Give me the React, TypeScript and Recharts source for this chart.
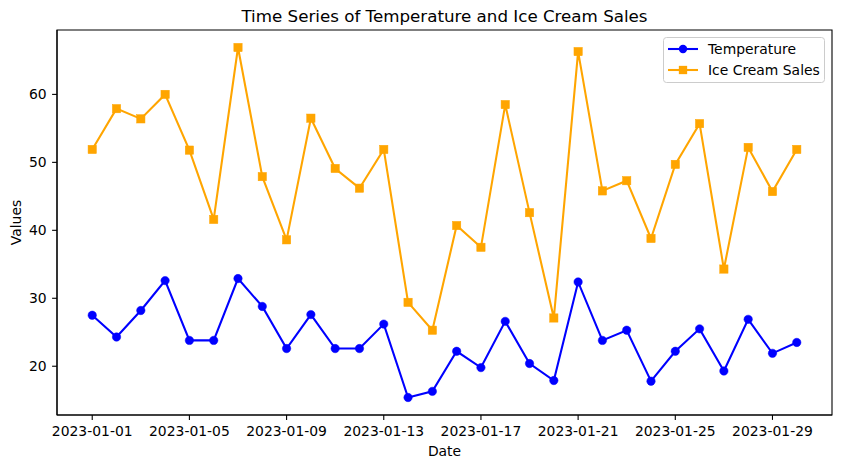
import React from 'react';
import { LineChart, Line, XAxis, YAxis, Legend, ReferenceArea } from 'recharts';

const dates = [
  '2023-01-01', '2023-01-02', '2023-01-03', '2023-01-04', '2023-01-05',
  '2023-01-06', '2023-01-07', '2023-01-08', '2023-01-09', '2023-01-10',
  '2023-01-11', '2023-01-12', '2023-01-13', '2023-01-14', '2023-01-15',
  '2023-01-16', '2023-01-17', '2023-01-18', '2023-01-19', '2023-01-20',
  '2023-01-21', '2023-01-22', '2023-01-23', '2023-01-24', '2023-01-25',
  '2023-01-26', '2023-01-27', '2023-01-28', '2023-01-29', '2023-01-30',
];

const temperature = [
  27.5, 24.3, 28.2, 32.6, 23.8, 23.8, 32.9, 28.8, 22.6, 27.6,
  22.6, 22.6, 26.2, 15.4, 16.3, 22.2, 19.8, 26.6, 20.4, 17.9,
  32.4, 23.8, 25.3, 17.8, 22.2, 25.5, 19.3, 26.9, 21.9, 23.5,
];

const iceCreamSales = [
  51.9, 57.9, 56.4, 60.0, 51.8, 41.6, 66.9, 47.9, 38.6, 56.5,
  49.1, 46.2, 51.9, 29.4, 25.3, 40.7, 37.5, 58.5, 42.6, 27.1,
  66.3, 45.8, 47.3, 38.8, 49.7, 55.7, 34.3, 52.2, 45.7, 51.9,
];

const xTickIndices = [0, 4, 8, 12, 16, 20, 24, 28];
const yTicks = [20, 30, 40, 50, 60];

const FONT = '"DejaVu Sans", sans-serif';
const BLUE = '#0000ff';
const ORANGE = '#ffa500';

const data = dates.map((d, i) => ({
  idx: i,
  date: d,
  temperature: temperature[i],
  sales: iceCreamSales[i],
}));

const allVals = [...temperature, ...iceCreamSales];
const yMin = Math.min(...allVals);
const yMax = Math.max(...allVals);
const yPad = (yMax - yMin) * 0.05;
const yDomain = [yMin - yPad, yMax + yPad];
const xPad = (dates.length - 1) * 0.05;
const xDomain = [-xPad, dates.length - 1 + xPad];

const SquareDot = (props: any) => {
  const { cx, cy, index } = props;
  if (cx == null || cy == null) return <g key={`s-${index}`} />;
  const s = 8.3;
  return <rect key={`s-${index}`} x={cx - s / 2} y={cy - s / 2} width={s} height={s} fill={ORANGE} stroke={ORANGE} strokeWidth={0.5} />;
};

const CircleDot = (props: any) => {
  const { cx, cy, index } = props;
  if (cx == null || cy == null) return <g key={`c-${index}`} />;
  return <circle key={`c-${index}`} cx={cx} cy={cy} r={4.2} fill={BLUE} stroke={BLUE} strokeWidth={0.5} />;
};

const LegendContent = () => (
  <svg width={163} height={47} style={{ display: 'block' }}>
    <rect x={0.5} y={0.5} width={161} height={45} rx={3} ry={3} fill="rgba(255,255,255,0.8)" stroke="#cccccc" strokeWidth={1} />
    <line x1={5} x2={35} y1={12} y2={12} stroke={BLUE} strokeWidth={2.08} />
    <circle cx={20} cy={12} r={4.2} fill={BLUE} />
    <text x={45} y={12} dominantBaseline="central" fontFamily={FONT} fontSize={13.9} fill="#000">Temperature</text>
    <line x1={5} x2={35} y1={33} y2={33} stroke={ORANGE} strokeWidth={2.08} />
    <rect x={20 - 4.15} y={33 - 4.15} width={8.3} height={8.3} fill={ORANGE} />
    <text x={45} y={33} dominantBaseline="central" fontFamily={FONT} fontSize={13.9} fill="#000">Ice Cream Sales</text>
  </svg>
);

export default function App() {
  return (
    <div style={{ position: 'absolute', left: 0, top: 0, width: 842, height: 468, background: '#fff' }}>
      <div
        style={{
          position: 'absolute', left: 57, width: 775, top: 5, textAlign: 'center',
          fontFamily: FONT, fontSize: 16.7, lineHeight: '22px', color: '#000',
        }}
      >
        Time Series of Temperature and Ice Cream Sales
      </div>
      <LineChart
        width={842}
        height={468}
        data={data}
        margin={{ top: 30, right: 10, bottom: 0, left: 0 }}
        style={{ fontFamily: FONT }}
      >
        <XAxis
          dataKey="idx"
          type="number"
          domain={xDomain}
          ticks={xTickIndices}
          tickFormatter={(v: number) => dates[v]}
          allowDataOverflow
          height={53}
          tickSize={4.9}
          tickMargin={6}
          stroke="#000"
          strokeWidth={1.1}
          tick={{ fill: '#000', fontSize: 13.9, fontFamily: FONT }}
          tickLine={{ stroke: '#000', strokeWidth: 1.1 }}
          interval={0}
          label={{
            content: (p: any) => {
              const vb = p.viewBox || {};
              return (
                <text x={vb.x + vb.width / 2} y={451} textAnchor="middle" dominantBaseline="central" fontFamily={FONT} fontSize={13.9} fill="#000">
                  Date
                </text>
              );
            },
          }}
        />
        <YAxis
          type="number"
          domain={yDomain}
          ticks={yTicks}
          allowDataOverflow
          width={57}
          tickSize={4.9}
          tickMargin={5.5}
          stroke="#000"
          strokeWidth={1.1}
          tick={{ fill: '#000', fontSize: 13.9, fontFamily: FONT }}
          tickLine={{ stroke: '#000', strokeWidth: 1.1 }}
          interval={0}
          label={{
            content: (p: any) => {
              const vb = p.viewBox || {};
              const cy = vb.y + vb.height / 2;
              return (
                <text x={16} y={cy} transform={`rotate(-90, 16, ${cy})`} textAnchor="middle" dominantBaseline="central" fontFamily={FONT} fontSize={13.9} fill="#000">
                  Values
                </text>
              );
            },
          }}
        />
        <ReferenceArea
          x1={xDomain[0]}
          x2={xDomain[1]}
          y1={yDomain[0]}
          y2={yDomain[1]}
          fill="none"
          fillOpacity={0}
          stroke="#000"
          strokeWidth={1.1}
          strokeOpacity={1}
          ifOverflow="visible"
        />
        <Line
          type="linear"
          dataKey="temperature"
          name="Temperature"
          stroke={BLUE}
          strokeWidth={2.08}
          dot={CircleDot}
          activeDot={false}
          isAnimationActive={false}
        />
        <Line
          type="linear"
          dataKey="sales"
          name="Ice Cream Sales"
          stroke={ORANGE}
          strokeWidth={2.08}
          dot={SquareDot}
          activeDot={false}
          isAnimationActive={false}
        />
        <Legend
          layout="vertical"
          align="center"
          verticalAlign="middle"
          content={LegendContent}
          wrapperStyle={{ left: 663, top: 37, width: 163, height: 47 }}
        />
      </LineChart>
    </div>
  );
}
